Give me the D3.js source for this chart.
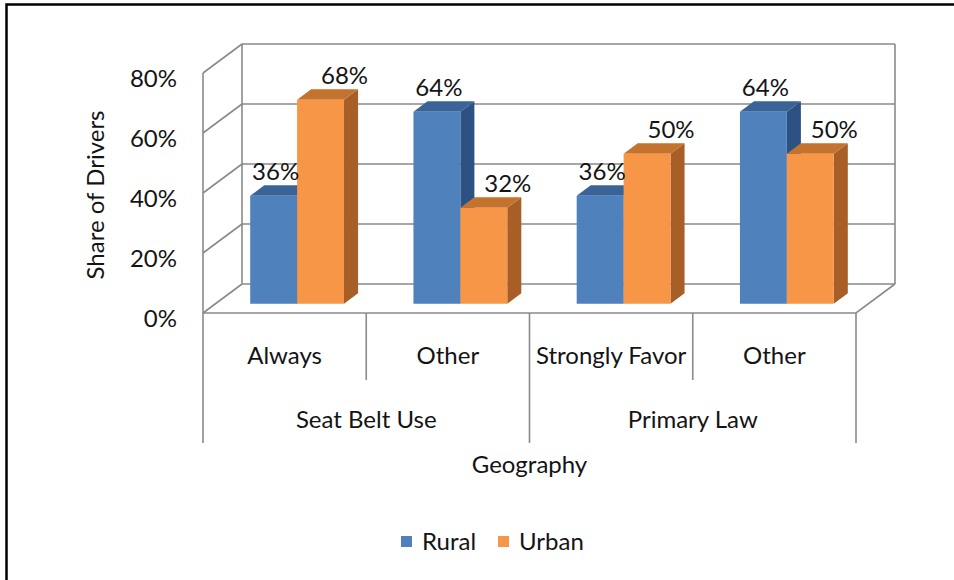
<!DOCTYPE html>
<html>
<head>
<meta charset="utf-8">
<script src="https://cdn.jsdelivr.net/npm/d3@7"></script>
<style>
  html, body { margin: 0; padding: 0; background: #fff; }
  svg { display: block; }
  text { font-family: Lato, "Open Sans", sans-serif; fill: #141414; }
</style>
</head>
<body>
<svg id="chart" width="954" height="580"></svg>
<script>
// Share of drivers by geography, grouped by question and response
const groups = ["Seat Belt Use", "Primary Law"];
const categories = ["Always", "Other", "Strongly Favor", "Other"];
const categoryGroup = [0, 0, 1, 1];
const seriesNames = ["Rural", "Urban"];
const rural = [36, 64, 36, 64];
const urban = [68, 32, 50, 50];
const tickValues = [0, 20, 40, 60, 80];
const tickLabels = ["0%", "20%", "40%", "60%", "80%"];

const colors = {
  Rural: { front: "#4f81bd", top: "#3a6498", side: "#2d5183" },
  Urban: { front: "#f79646", top: "#c4732f", side: "#a75f27" }
};
const gridColor = "#8a8a8a";
const fontSize = 24;

const svg = d3.select("#chart");

// Oblique 3D frame: front plane plus a depth offset toward the back wall
const depth = { dx: 39, dy: -29 };
const y = d3.scaleLinear().domain([0, 80]).range([313, 73]);
const x0 = d3.scaleBand().domain(d3.range(categories.length)).range([203, 856]).padding(0);
const x1 = d3.scaleBand().domain(seriesNames).range([0, x0.bandwidth()]).paddingInner(0).paddingOuter(0.74);
const proj = (px, v, d) => [px + depth.dx * d, y(v) + depth.dy * d];

const walls = svg.append("g").attr("fill", "none").attr("stroke", gridColor).attr("stroke-width", 1.6);
const [left0, right0] = x0.range();

// Back wall gridlines and side wall gridlines
tickValues.forEach(v => {
  const a = proj(left0, v, 1), b = proj(right0, v, 1);
  walls.append("line").attr("x1", a[0]).attr("y1", a[1]).attr("x2", b[0]).attr("y2", b[1]);
  const c = proj(left0, v, 0);
  walls.append("line").attr("x1", c[0]).attr("y1", c[1]).attr("x2", a[0]).attr("y2", a[1]);
});
// Vertical wall edges
[[left0, 1], [right0, 1], [left0, 0]].forEach(([px, d]) => {
  const a = proj(px, 0, d), b = proj(px, 80, d);
  walls.append("line").attr("x1", a[0]).attr("y1", a[1]).attr("x2", b[0]).attr("y2", b[1]);
});
// Floor front edge and right diagonal
{
  const a = proj(left0, 0, 0), b = proj(right0, 0, 0), c = proj(right0, 0, 1);
  walls.append("path").attr("d", `M${a}L${b}L${c}`);
}

// Bars: side, top, then front face, left to right
const barFront = 0.32, barBack = 0.68;
const rows = categories.map((c, i) => ({ i, Rural: rural[i], Urban: urban[i] }));
const bars = svg.append("g");
rows.forEach(r => {
  seriesNames.forEach(s => {
    const v = r[s];
    const xl = x0(r.i) + x1(s), xr = xl + x1.bandwidth();
    const p = (px, val, d) => proj(px, val, d).join(",");
    const col = colors[s];
    bars.append("path").attr("fill", col.side)
      .attr("d", `M${p(xr, 0, barFront)}L${p(xr, 0, barBack)}L${p(xr, v, barBack)}L${p(xr, v, barFront)}Z`);
    bars.append("path").attr("fill", col.top)
      .attr("d", `M${p(xl, v, barFront)}L${p(xl, v, barBack)}L${p(xr, v, barBack)}L${p(xr, v, barFront)}Z`);
    bars.append("path").attr("fill", col.front)
      .attr("d", `M${p(xl, 0, barFront)}L${p(xr, 0, barFront)}L${p(xr, v, barFront)}L${p(xl, v, barFront)}Z`);
  });
});

// Value labels above each bar
const labelShift = { Rural: 2, Urban: 24 };
const labels = svg.append("g").attr("font-size", fontSize).attr("text-anchor", "middle");
rows.forEach(r => {
  seriesNames.forEach(s => {
    const v = r[s];
    const cx = x0(r.i) + x1(s) + x1.bandwidth() / 2 + depth.dx * barFront + labelShift[s];
    labels.append("text").attr("x", cx).attr("y", y(v) + depth.dy * barFront - 16)
      .text(v + "%");
  });
});

// Value axis tick labels and title
const yAxis = svg.append("g").attr("font-size", fontSize).attr("text-anchor", "end");
tickValues.forEach((v, k) => {
  yAxis.append("text").attr("x", 177).attr("y", y(v) + 14).text(tickLabels[k]);
});
svg.append("text").attr("font-size", fontSize).attr("text-anchor", "middle")
  .attr("transform", "translate(104,195) rotate(-90)").text("Share of Drivers");

// Two-level category axis
const axis = svg.append("g").attr("stroke", gridColor).attr("stroke-width", 1.6);
categories.forEach((c, i) => {
  const xs = x0(i);
  const outer = i === 0 || categoryGroup[i] !== categoryGroup[i - 1];
  axis.append("line").attr("x1", xs).attr("x2", xs).attr("y1", y(0)).attr("y2", outer ? 443 : 380);
});
axis.append("line").attr("x1", right0).attr("x2", right0).attr("y1", y(0)).attr("y2", 443);

const catText = svg.append("g").attr("font-size", fontSize).attr("text-anchor", "middle");
categories.forEach((c, i) => {
  catText.append("text").attr("x", x0(i) + x0.bandwidth() / 2).attr("y", 364).text(c);
});
groups.forEach((g, k) => {
  const idx = d3.range(categories.length).filter(i => categoryGroup[i] === k);
  const a = x0(idx[0]), b = x0(idx[idx.length - 1]) + x0.bandwidth();
  catText.append("text").attr("x", (a + b) / 2).attr("y", 428).text(g);
});
catText.append("text").attr("x", (left0 + right0) / 2).attr("y", 473).text("Geography");

// Legend
const legend = svg.append("g").attr("font-size", fontSize);
const legendX = [401, 498];
seriesNames.forEach((s, k) => {
  legend.append("rect").attr("x", legendX[k]).attr("y", 536).attr("width", 11).attr("height", 11)
    .attr("fill", colors[s].front);
  legend.append("text").attr("x", legendX[k] + 21).attr("y", 550).text(s);
});

// Frame around the chart area
svg.append("rect").attr("x", 6.5).attr("y", 4.5).attr("width", 1000).attr("height", 1000)
  .attr("fill", "none").attr("stroke", "#000").attr("stroke-width", 2.5);
</script>
</body>
</html>
